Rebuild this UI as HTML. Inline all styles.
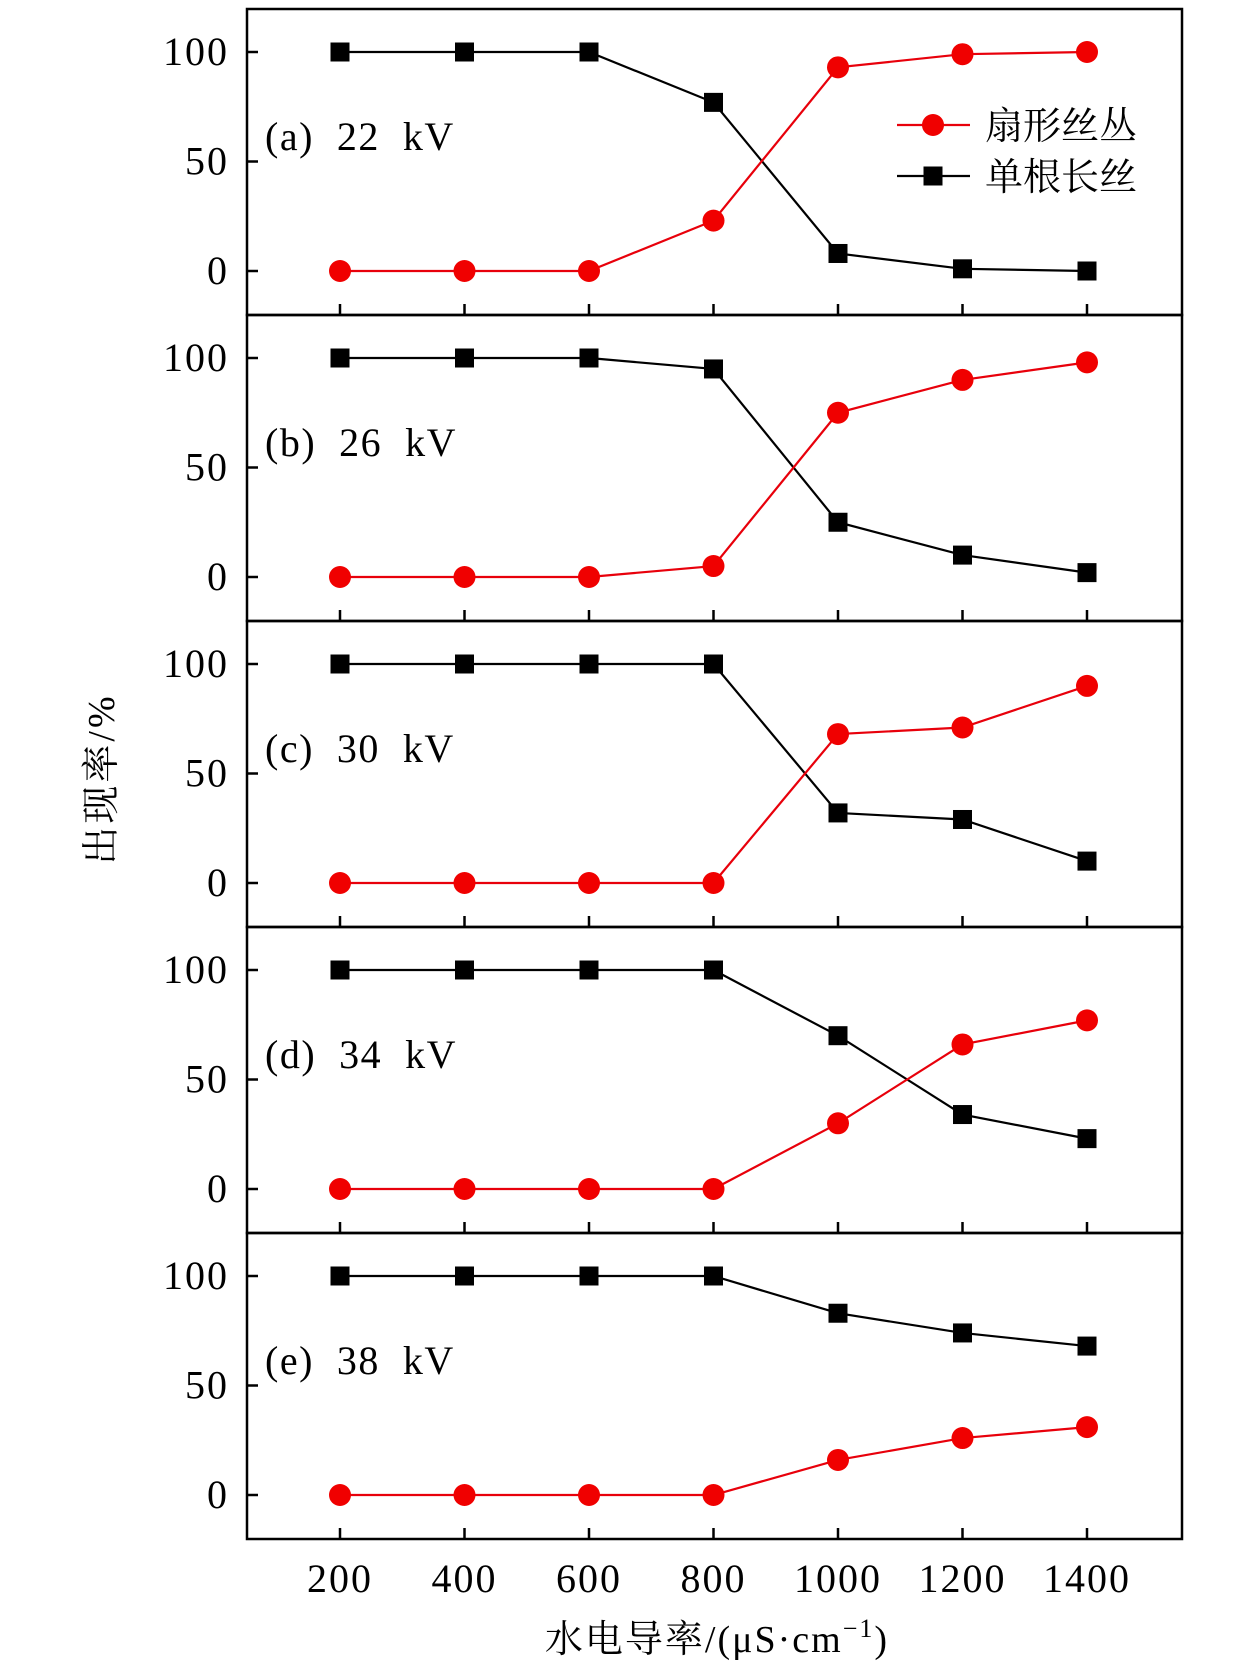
<!DOCTYPE html>
<html><head><meta charset="utf-8">
<style>html,body{margin:0;padding:0;background:#fff;}svg{display:block;}</style>
</head><body>
<svg id="chart" width="1260" height="1669" xmlns="http://www.w3.org/2000/svg" font-family="'Liberation Serif','Noto Serif CJK SC',serif"></svg>
<script>
const categories=[200,400,600,800,1000,1200,1400];
const panelLabels=["(a)  22  kV","(b)  26  kV","(c)  30  kV","(d)  34  kV","(e)  38  kV"];
const fanValues=[[0,0,0,23,93,99,100],[0,0,0,5,75,90,98],[0,0,0,0,68,71,90],[0,0,0,0,30,66,77],[0,0,0,0,16,26,31]];
const singleValues=[[100,100,100,77,8,1,0],[100,100,100,95,25,10,2],[100,100,100,100,32,29,10],[100,100,100,100,70,34,23],[100,100,100,100,83,74,68]];
const yTicks=[0,50,100];
const svg=document.getElementById('chart');
const NS="http://www.w3.org/2000/svg";
const L=247,R=1182,T=9,PH=306;
const xs=v=>340+(v-200)/200*124.5;
const ys=(p,v)=>T+p*PH+43+(100-v)*2.19;
function mk(tag,attrs,parent){const e=document.createElementNS(NS,tag);for(const k in attrs)e.setAttribute(k,attrs[k]);(parent||svg).appendChild(e);return e;}
for(let p=0;p<5;p++){
  const g=mk('g',{});
  
  
  const fr=mk('rect',{x:L,y:T+p*PH,width:R-L,height:PH,fill:'none',stroke:'#000','stroke-width':2.5},g);
  
  
  yTicks.forEach(t=>{
    const y=ys(p,t);
    mk('line',{x1:L,x2:L+11,y1:y,y2:y,stroke:'#000','stroke-width':2.5},g);
    const tx=mk('text',{x:L-18,y:y+13,'text-anchor':'end','font-size':40,'letter-spacing':2},g);
    tx.textContent=t;
    
    
  });
  categories.forEach(c=>{
    const y=T+(p+1)*PH;
    mk('line',{x1:xs(c),x2:xs(c),y1:y,y2:y-11,stroke:'#000','stroke-width':2.5},g);
  });
  const lab=mk('text',{x:265,y:T+p*PH+141,'font-size':40,'letter-spacing':1.5,'xml:space':'preserve',style:'white-space:pre'},g);
  lab.textContent=panelLabels[p];
  
  
  const bl=mk('polyline',{points:categories.map((c,i)=>xs(c)+','+ys(p,singleValues[p][i])).join(' '),fill:'none',stroke:'#000','stroke-width':2.2},g);
  
  
  const rl=mk('polyline',{points:categories.map((c,i)=>xs(c)+','+ys(p,fanValues[p][i])).join(' '),fill:'none',stroke:'#e8000b','stroke-width':2.2},g);
  
  
  categories.forEach((c,i)=>{
    const s=mk('rect',{x:xs(c)-9.5,y:ys(p,singleValues[p][i])-9.5,width:19,height:19,fill:'#000'},g);
    
    
    const ci=mk('circle',{cx:xs(c),cy:ys(p,fanValues[p][i]),r:11,fill:'#f00000'},g);
    
    
  });
}
categories.forEach(c=>{
  const t=mk('text',{x:xs(c),y:1592,'text-anchor':'middle','font-size':40,'letter-spacing':2});
  t.textContent=c;
  
  
});
const lg=mk('g',{});


mk('line',{x1:897,x2:970,y1:125,y2:125,stroke:'#e8000b','stroke-width':2.2},lg);
mk('circle',{cx:933,cy:125,r:11,fill:'#f00000'},lg);
const l1=mk('text',{x:985,y:139,'font-size':38},lg);l1.textContent='扇形丝丛';


mk('line',{x1:897,x2:970,y1:176,y2:176,stroke:'#000','stroke-width':2.2},lg);
mk('rect',{x:923.5,y:166.5,width:19,height:19,fill:'#000'},lg);
const l2=mk('text',{x:985,y:190,'font-size':38},lg);l2.textContent='单根长丝';


const yt=mk('text',{x:0,y:0,'text-anchor':'middle','font-size':38,'letter-spacing':3,transform:'translate(114,779) rotate(-90)'});
yt.textContent='出现率/%';


const xt=mk('text',{x:717,y:1652,'text-anchor':'middle','font-size':38,'letter-spacing':2});
xt.innerHTML='水电导率/(μS·cm<tspan dy="-15" font-size="26">−1</tspan><tspan dy="15">)</tspan>';


</script>
</body></html>
